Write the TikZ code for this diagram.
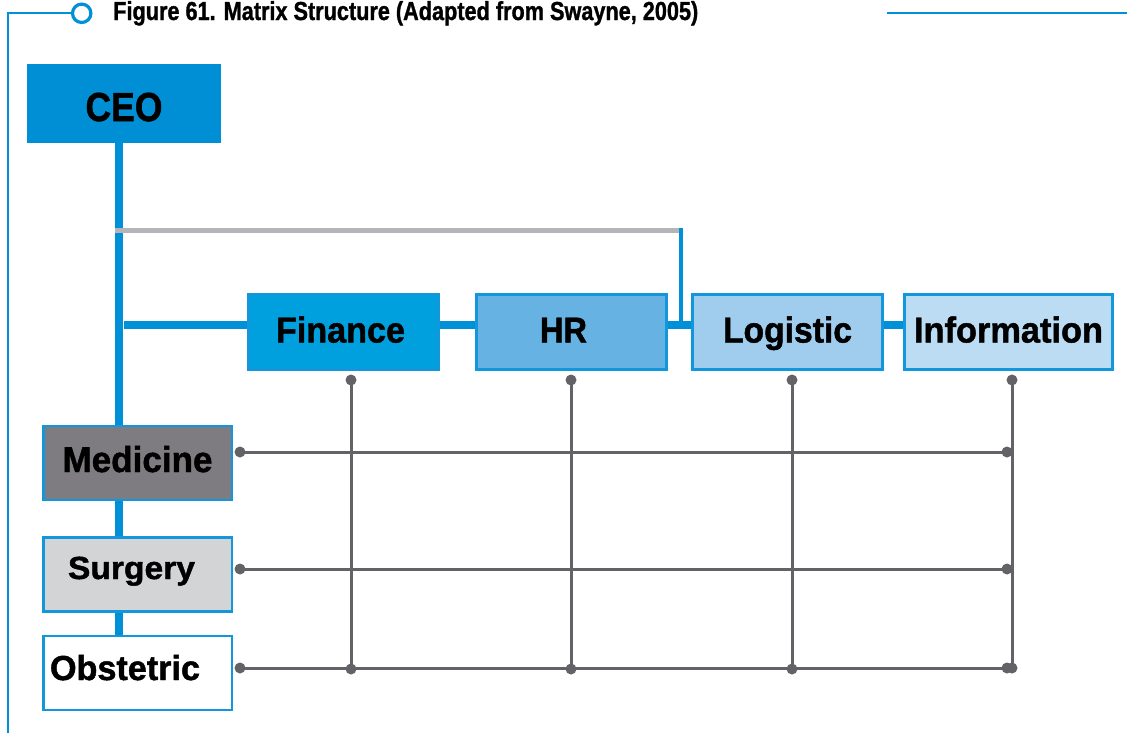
\documentclass[tikz,border=0pt]{standalone}
\usepackage{fontspec}
\setmainfont{Liberation Sans}[BoldFeatures={FakeBold=1.3}]
\usepackage{graphicx}
\definecolor{ceoblue}{HTML}{008FD5}
\definecolor{lineblue}{HTML}{0090D8}
\definecolor{boxblue}{HTML}{1297DD}
\definecolor{finfill}{HTML}{009FDD}
\definecolor{hrfill}{HTML}{66B3E3}
\definecolor{logfill}{HTML}{A0CDEE}
\definecolor{inffill}{HTML}{BBDCF3}
\definecolor{medfill}{HTML}{7F7C81}
\definecolor{surfill}{HTML}{D3D4D6}
\definecolor{lgrey}{HTML}{B4B5B9}
\definecolor{dgrey}{HTML}{636266}
\newcommand\fitw[2]{\resizebox{#1}{\height}{#2}}
\tikzset{
  deptbox/.style={draw=boxblue, line width=2pt, inner sep=0pt,
    minimum width=142.75pt, minimum height=56.5pt,
    text height=19.5pt, text depth=3.75pt,
    font=\fontsize{27}{27}\selectfont\bfseries},
  unitbox/.style={deptbox, minimum width=141.5pt, minimum height=55.5pt},
  ceobox/.style={fill=ceoblue, draw=none, inner sep=0pt,
    minimum width=145.5pt, minimum height=59.25pt,
    text height=26.25pt, text depth=0pt,
    font=\fontsize{30.4}{30}\selectfont\bfseries},
  bline/.style={draw=lineblue, line width=6pt},
  bthin/.style={draw=lineblue, line width=3.5pt},
  gline/.style={draw=lgrey, line width=3.75pt},
  conn/.style={draw=dgrey, line width=2.25pt},
  dot/.style={circle, fill=dgrey, draw=none, inner sep=0pt, minimum size=8.25pt},
  frameline/.style={draw=lineblue, line width=1.7pt},
  ring/.style={circle, draw=lineblue, line width=2.4pt, fill=white, inner sep=0pt, minimum size=13.8pt},
}
\begin{document}
\begin{tikzpicture}[x=0.75pt,y=-0.75pt]
\useasboundingbox (0,0) rectangle (1127,733);

% frame and title
\node[ring] (ring) at (81.7,13.3) {};
\coordinate (fb) at (8,733);
\coordinate (ft) at (8,13.3);
\draw[frameline] (fb) -- (ft) -- (ring.west);
\coordinate (tr0) at (887,13);
\coordinate (tr1) at (1127,13);
\draw[frameline, line width=2.2pt] (tr0) -- (tr1);
\node[anchor=base west, inner sep=0pt, font=\fontsize{19.5}{20}\selectfont\bfseries] (title) at (113,20)
  {\fitw{438.75pt}{Figure 61. Matrix Structure (Adapted from Swayne, 2005)}};

% boxes
\node[ceobox] (ceo) at (124,103.5) {\fitw{57.75pt}{CEO}};
\node[deptbox, fill=finfill] (fin) at (343.5,332) {\fitw{96.75pt}{Finance}\hspace*{4.5pt}};
\node[deptbox, fill=hrfill] (hr) at (571.5,332) {\fitw{35.25pt}{HR}\hspace*{12pt}};
\node[deptbox, fill=logfill] (log) at (787.5,332) {\fitw{96.75pt}{Logistic}};
\node[deptbox, fill=inffill, minimum width=156.25pt] (inf) at (1008.5,332) {\fitw{141.75pt}{Information}};
\node[unitbox, fill=medfill, text depth=6pt] (med) at (137.5,463) {\fitw{112.5pt}{Medicine}};
\node[unitbox, fill=surfill, font=\fontsize{24}{24}\selectfont\bfseries, text height=17.25pt, text depth=10.5pt] (sur) at (137.5,574.5) {\fitw{95.25pt}{Surgery}\hspace*{9pt}};
\node[unitbox, fill=white, font=\fontsize{26}{26}\selectfont\bfseries, text height=18.75pt, text depth=8.25pt] (obs) at (137.5,673) {\fitw{112.5pt}{Obstetric}\hspace*{18.75pt}};

% line hierarchy (blue)
\coordinate (tx) at (119,0);
\draw[bline] (ceo.south -| tx) -- (med.north -| tx);
\draw[bline] (med.south -| tx) -- (sur.north -| tx);
\draw[bline] (sur.south -| tx) -- (obs.north -| tx);
\coordinate (hy) at (124,325);
\draw[bline] (hy) -- (hy -| fin.west);
\draw[bline] (hy -| fin.east) -- (hy -| hr.west);
\draw[bline] (hy -| hr.east) -- (hy -| log.west);
\draw[bline] (hy -| log.east) -- (hy -| inf.west);

% grey staff line
\coordinate (g0) at (115,230);
\coordinate (g1) at (681,230);
\draw[gline] (g0) -- (g1);
\coordinate (g2) at (681,228.2);
\draw[bthin] (g2) -- (g2 |- hy);

% matrix dots
\node[dot] (fd) at (351,380) {};
\node[dot] (hd) at (571,380) {};
\node[dot] (ld) at (792,380) {};
\node[dot] (id) at (1012,380) {};
\node[dot] (ml) at (240,452) {};
\node[dot] (sl) at (240,569) {};
\node[dot] (ol) at (240,668) {};
\node[dot] (mr) at (1007,452) {};
\node[dot] (sr) at (1007,569) {};
\node[dot] (or) at (1007,668) {};
\node[dot] (ib) at (1012,668) {};
\node[dot] (fb2) at (351,669) {};
\node[dot] (hb) at (571,669) {};
\node[dot] (lb) at (792,669) {};

% matrix connectors
\draw[conn] (fd.center) -- (fb2.center);
\draw[conn] (hd.center) -- (hb.center);
\draw[conn] (ld.center) -- (lb.center);
\draw[conn] (id.center) -- (ib.center);
\draw[conn] (ml.center) -- (mr.center);
\draw[conn] (sl.center) -- (sr.center);
\draw[conn] (ol.center) -- (or.center);
\end{tikzpicture}
\end{document}
